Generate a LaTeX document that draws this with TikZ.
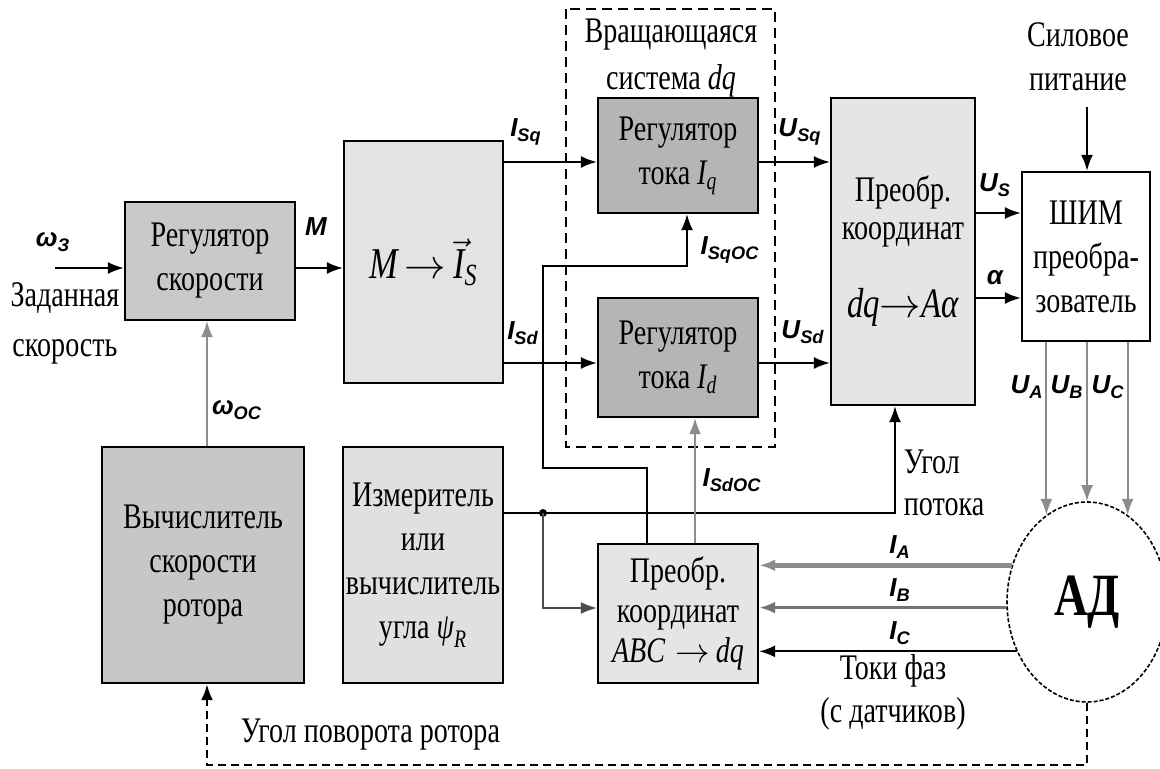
\documentclass[tikz,border=0pt]{standalone}
\usepackage{amsmath}
\usepackage{fontspec}
\setmainfont{Liberation Serif}
\newfontfamily\boxfont{Liberation Serif}[FakeStretch=0.78]
\newfontfamily\sigfont{Liberation Sans}
\usetikzlibrary{arrows.meta,shapes.geometric,positioning}
\newcommand{\sig}[2]{#1\textsubscript{#2}}

\begin{document}
\begin{tikzpicture}[x=0.5pt,y=-0.5pt,>={Latex[length=8pt,width=6pt]},line width=0.9pt]
\tikzstyle{block}=[draw,line width=1.2pt,inner sep=0pt,align=center,font=\boxfont\fontsize{18}{22}\selectfont]
\tikzstyle{txt}=[inner sep=0pt,align=center,font=\boxfont\fontsize{18}{22}\selectfont]
\tikzstyle{sig}=[inner sep=0pt,font=\sigfont\bfseries\itshape\fontsize{13}{15}\selectfont]
\tikzstyle{wire}=[->,line width=0.9pt]
\tikzstyle{greywire}=[wire,draw=black!45]

\useasboundingbox (0,0) rectangle (1160,769);

\node[block,fill=black!21,minimum width=85pt,minimum height=59pt]    (sreg) at (210,261)   {Регулятор\\скорости};
\node[block,fill=black!11,minimum width=79.5pt,minimum height=121pt] (mis)  at (423.5,262) {\fontsize{22}{24}\selectfont$\textit{M}\,{\to}\,\vec{\textit{I}}_{\textit{S}}$};
\node[block,fill=black!29,minimum width=80pt,minimum height=57.5pt]  (riq)  at (678,155.5) {Регулятор\\тока $\textit{I}_{\textit{q}}$};
\node[block,fill=black!29,minimum width=80pt,minimum height=59.5pt]  (rid)  at (678,357.5) {Регулятор\\тока $\textit{I}_{\textit{d}}$};
\node[block,fill=black!10,minimum width=72pt,minimum height=153.5pt,font=\boxfont\fontsize{18}{19}\selectfont] (dqa) at (903,251.5)
  {Преобр.\\координат\\[20pt]{\fontsize{21}{24}\selectfont\textit{dq}$\to$\textit{Aα}}};
\node[block,fill=white,minimum width=64pt,minimum height=84.5pt]     (pwm)  at (1086,256.5) {ШИМ\\преобра-\\зователь};
\node[block,fill=black!22,minimum width=101pt,minimum height=118pt]  (vsr)  at (203,565)   {Вычислитель\\скорости\\ротора};
\node[block,fill=black!12,minimum width=80pt,minimum height=118pt]   (izm)  at (423,565)   {Измеритель\\или\\вычислитель\\угла $\textit{ψ}_{\textit{R}}$};
\node[block,fill=black!10,minimum width=80pt,minimum height=69.5pt,font=\boxfont\fontsize{18}{20}\selectfont] (abc) at (678,613.5)
  {Преобр.\\координат\\\textit{ABC}\;$\to$\,\textit{dq}};
\node[draw,ellipse,fill=white,line width=0.8pt,dash pattern=on 2pt off 1pt,inner sep=0pt,minimum width=80pt,minimum height=100pt,
  font=\boxfont\bfseries\fontsize{30}{34}\selectfont] (motor) at (1087,602) {АД};

\draw[dashed,line width=1pt,dash pattern=on 5pt off 3pt] (566,9) rectangle (775,447);

% texts
\node[txt,font=\boxfont\fontsize{18}{23.5}\selectfont] (rotsys) at (671,58) {Вращающаяся\\система \textit{dq}};
\node[txt] (power) at (1078,57) {Силовое\\питание};
\node[txt,font=\boxfont\fontsize{18}{25}\selectfont] (zad) at (65,323) {Заданная\\скорость};
\node[txt,align=left,anchor=west,font=\boxfont\fontsize{18}{21}\selectfont] (flux) at (903,483) {Угол\\потока};
\node[txt,font=\boxfont\fontsize{18}{21.5}\selectfont] (phase) at (893,692) {Токи фаз\\(с датчиков)};
\node[txt,anchor=west] (rotang) at (240,735) {Угол поворота ротора};

\node[sig] (lw)   at (53,242)   {ω\textsubscript{З}};
\node[sig] (lm)   at (316,227)  {M};
\node[sig] (lisq) at (526,132)  {\sig{I}{Sq}};
\node[sig] (lisd) at (523,333)  {\sig{I}{Sd}};
\node[sig] (lusq) at (800,132)  {\sig{U}{Sq}};
\node[sig] (lusd) at (803,332)  {\sig{U}{Sd}};
\node[sig] (lus)  at (995,185)  {\sig{U}{S}};
\node[sig] (lal)  at (995,278)  {α};
\node[sig] (lsqo) at (730,250)  {\sig{I}{SqОС}};
\node[sig] (lsdo) at (732,480)  {\sig{I}{SdОС}};
\node[sig] (lwoc) at (237,410)  {ω\textsubscript{ОС}};
\node[sig] (lua)  at (1027,387) {\sig{U}{A}};
\node[sig] (lub)  at (1067,387) {\sig{U}{B}};
\node[sig] (luc)  at (1108,387) {\sig{U}{C}};
\node[sig] (lia)  at (900,547)  {\sig{I}{A}};
\node[sig] (lib)  at (900,590)  {\sig{I}{B}};
\node[sig] (lic)  at (900,633)  {\sig{I}{C}};

% levels
\coordinate (win) at (55,268);
\coordinate (yq) at (0,162);
\coordinate (yd) at (0,363);
\coordinate (yus) at (0,213);
\coordinate (yal) at (0,298);
\coordinate (pw) at (1087,107);
\coordinate (fl) at (895,513);
\coordinate (tap) at (543,513);
\coordinate (ytap) at (0,608);
\coordinate (q1) at (647,468);
\coordinate (q2) at (543,266);
\coordinate (q3) at (687,266);
\coordinate (sd) at (695,0);
\coordinate (xw) at (207,0);
\coordinate (rt) at (207,765);

\draw[wire] (win) -- (win -| sreg.west);
\draw[wire] (sreg.east |- win) -- (mis.west |- win);
\draw[wire] (mis.east |- yq) -- (riq.west |- yq);
\draw[wire] (riq.east |- yq) -- (dqa.west |- yq);
\draw[wire] (mis.east |- yd) -- (rid.west |- yd);
\draw[wire] (rid.east |- yd) -- (dqa.west |- yd);
\draw[wire] (dqa.east |- yus) -- (pwm.west |- yus);
\draw[wire] (dqa.east |- yal) -- (pwm.west |- yal);
\draw[wire] (pw) -- (pw |- pwm.north);

\draw[greywire] (motor.115 |- pwm.south) -- (motor.115);
\draw[greywire] (motor.north |- pwm.south) -- (motor.north);
\draw[greywire] (motor.65 |- pwm.south) -- (motor.65);

\draw[wire,draw=black!45,line width=2.5pt] (motor.154) -- (abc.east |- motor.154);
\draw[wire,draw=black!55,line width=1.5pt] (motor.184) -- (abc.east |- motor.184);
\draw[wire] (motor.215) -- (abc.east |- motor.215);

\draw[wire] (izm.east |- fl) -| (fl |- dqa.south);
\fill (tap) circle (2pt);
\draw[wire,draw=black!70] (tap) |- (abc.west |- ytap);
\draw[wire] (abc.north -| q1) -- (q1) -| (q2) -- (q3) -- (q3 |- riq.south);
\draw[greywire] (abc.north -| sd) -- (rid.south -| sd);
\draw[greywire] (vsr.north -| xw) -- (sreg.south -| xw);
\draw[wire,line width=1.2pt,dash pattern=on 4pt off 2.5pt] (motor.south) |- (rt) -- (rt |- vsr.south);

\end{tikzpicture}
\end{document}
